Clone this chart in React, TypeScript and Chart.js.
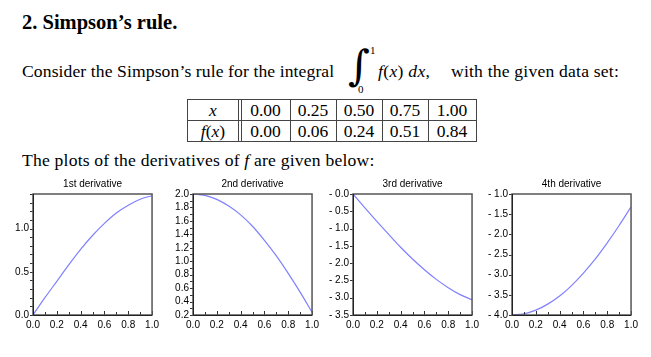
import React, { useEffect, useRef } from "react";
import { Chart, registerables } from "chart.js";

Chart.register(...registerables);

// ---- data ----
const TABLE_X = ["0.00", "0.25", "0.50", "0.75", "1.00"];
const TABLE_F = ["0.00", "0.06", "0.24", "0.51", "0.84"];

const X_VALUES = [0, 0.1, 0.2, 0.3, 0.4, 0.5, 0.6, 0.7, 0.8, 0.9, 1.0];
const D1 = [0, 0.2, 0.39, 0.58, 0.76, 0.92, 1.06, 1.18, 1.27, 1.34, 1.38];
const D2 = [2.0, 1.98, 1.92, 1.82, 1.69, 1.52, 1.31, 1.08, 0.82, 0.54, 0.24];
const D3 = [0.0, -0.4, -0.79, -1.17, -1.54, -1.88, -2.19, -2.47, -2.71, -2.91, -3.06];
const D4 = [-4.0, -3.97, -3.88, -3.73, -3.53, -3.27, -2.96, -2.61, -2.21, -1.78, -1.32];

const X_TICKS = [0, 0.2, 0.4, 0.6, 0.8, 1.0];
const Y1_TICKS = [0, 0.5, 1.0];
const Y2_TICKS = [0.2, 0.4, 0.6, 0.8, 1.0, 1.2, 1.4, 1.6, 1.8, 2.0];
const Y3_TICKS = [-3.5, -3.0, -2.5, -2.0, -1.5, -1.0, -0.5, 0.0];
const Y4_TICKS = [-4.0, -3.5, -3.0, -2.5, -2.0, -1.5, -1.0];

const TITLES = ["1st derivative", "2nd derivative", "3rd derivative", "4th derivative"];

const CHARTS = [
  { title: TITLES[0], data: D1, yTicks: Y1_TICKS, min: 0, max: 1.4, minor: 0.1, neg: false, left: 0 },
  { title: TITLES[1], data: D2, yTicks: Y2_TICKS, min: 0.2, max: 2.0, minor: 0.1, neg: false, left: 160 },
  { title: TITLES[2], data: D3, yTicks: Y3_TICKS, min: -3.5, max: 0, minor: 0.5, neg: true, left: 320 },
  { title: TITLES[3], data: D4, yTicks: Y4_TICKS, min: -4, max: -1, minor: 0.5, neg: true, left: 479 },
];

const SANS = "'Liberation Sans', Arial, sans-serif";
const SERIF = "'Liberation Serif', 'Times New Roman', serif";

const framePlugin = {
  id: "frame",
  afterDraw(chart: any, _args: any, opts: any) {
    const { ctx, chartArea, scales } = chart;
    const { left, top, right, bottom } = chartArea;
    const xs = scales.x;
    const ys = scales.y;
    ctx.save();
    ctx.strokeStyle = "#333";
    ctx.lineWidth = 1;
    for (let i = 0; i <= 10; i++) {
      const v = i / 10;
      const px = Math.round(xs.getPixelForValue(v)) + 0.5;
      const len = i % 2 === 0 ? 4 : 3;
      ctx.beginPath();
      ctx.moveTo(px, bottom);
      ctx.lineTo(px, bottom - len);
      ctx.stroke();
    }
    const step = opts.minor;
    const n = Math.round((ys.max - ys.min) / step);
    for (let i = 0; i <= n; i++) {
      const v = ys.min + i * step;
      const py = Math.round(ys.getPixelForValue(v)) + 0.5;
      ctx.beginPath();
      ctx.moveTo(left - 3, py);
      ctx.lineTo(left, py);
      ctx.stroke();
    }
    ctx.strokeStyle = "#555";
    ctx.lineWidth = 1.5;
    ctx.strokeRect(left, top, right - left, bottom - top);
    ctx.strokeStyle = "#222";
    ctx.lineWidth = 1;
    ctx.beginPath();
    ctx.moveTo(left + 0.5, top);
    ctx.lineTo(left + 0.5, bottom + 0.5);
    ctx.lineTo(right, bottom + 0.5);
    ctx.stroke();
    ctx.restore();
  },
};

function DerivChart({ cfg }: { cfg: any }) {
  const ref = useRef<HTMLCanvasElement>(null);
  useEffect(() => {
    if (!ref.current) return;
    const fmtY = (v: number) => {
      if (v < 0 || (cfg.neg && v === 0)) return "- " + Math.abs(v).toFixed(1);
      return v.toFixed(1);
    };
    const chart = new Chart(ref.current, {
      type: "line",
      data: {
        datasets: [
          {
            data: X_VALUES.map((x, i) => ({ x, y: cfg.data[i] })),
            borderColor: "#8080ff",
            borderWidth: 1.2,
            pointRadius: 0,
            cubicInterpolationMode: "monotone",
            fill: false,
          },
        ],
      },
      options: {
        animation: false,
        responsive: false,
        devicePixelRatio: 1,
        layout: { padding: { top: 0, right: 10, bottom: 0, left: 0 } },
        plugins: {
          legend: { display: false },
          tooltip: { enabled: false },
          title: {
            display: true,
            fullSize: false,
            text: cfg.title,
            color: "#000",
            font: { size: 10, family: SANS, weight: "normal" },
            padding: { top: 2, bottom: 4 },
          },
          frame: { minor: cfg.minor },
        } as any,
        scales: {
          x: {
            type: "linear",
            min: 0,
            max: 1,
            grid: { display: false, drawTicks: false },
            border: { display: false },
            ticks: {
              color: "#000",
              font: { size: 10, family: SANS },
              padding: 4,
              maxRotation: 0,
              autoSkip: false,
              callback: (v: any) => Number(v).toFixed(1),
            },
            afterBuildTicks: (s: any) => {
              s.ticks = X_TICKS.map((v) => ({ value: v }));
            },
            afterFit: (s: any) => {
              s.height = 20;
            },
          },
          y: {
            type: "linear",
            min: cfg.min,
            max: cfg.max,
            grid: { display: false, drawTicks: false },
            border: { display: false },
            ticks: {
              color: "#000",
              font: { size: 10, family: SANS },
              padding: 4,
              autoSkip: false,
              callback: (v: any) => fmtY(Number(v)),
            },
            afterBuildTicks: (s: any) => {
              s.ticks = cfg.yTicks.map((v: number) => ({ value: v }));
            },
            afterFit: (s: any) => {
              s.width = 33;
            },
          },
        },
      } as any,
      plugins: [framePlugin],
    });
    return () => chart.destroy();
  }, [cfg]);
  return (
    <canvas
      ref={ref}
      width={163}
      height={159}
      style={{ position: "absolute", left: cfg.left, top: 176, width: 163, height: 159 }}
    />
  );
}

const txt = (extra: any) => ({
  position: "absolute" as const,
  fontFamily: SERIF,
  whiteSpace: "nowrap" as const,
  color: "#000",
  ...extra,
});

function DataTable() {
  const colLines = [187, 290, 336, 382, 428, 476];
  const rowLines = [99, 120, 141];
  const cells = [241, 290, 336, 382, 428, 476];
  const lineColor = "#444";
  const items: any[] = [];
  rowLines.forEach((y, i) =>
    items.push(
      <div key={"r" + i} style={{ position: "absolute", left: 187, top: y, width: 289, height: 1, background: lineColor }} />
    )
  );
  colLines.forEach((x, i) =>
    items.push(
      <div key={"c" + i} style={{ position: "absolute", left: x, top: 99, width: 1, height: 43, background: lineColor }} />
    )
  );
  items.push(<div key="d1" style={{ position: "absolute", left: 238, top: 99, width: 1, height: 43, background: lineColor }} />);
  items.push(<div key="d2" style={{ position: "absolute", left: 241, top: 99, width: 1, height: 43, background: lineColor }} />);
  const fs = 17.5;
  items.push(
    <div key="hx" style={txt({ left: 187, width: 52, top: 101.5, fontSize: fs, lineHeight: fs + "px", textAlign: "center", fontStyle: "italic" })}>
      x
    </div>
  );
  items.push(
    <div key="hf" style={txt({ left: 187, width: 52, top: 122.5, fontSize: fs, lineHeight: fs + "px", textAlign: "center" })}>
      <i>f</i>(<i>x</i>)
    </div>
  );
  for (let i = 0; i < 5; i++) {
    const l = cells[i];
    const w = cells[i + 1] - cells[i];
    items.push(
      <div key={"x" + i} style={txt({ left: l, width: w, top: 101.5, fontSize: fs, lineHeight: fs + "px", textAlign: "center" })}>
        {TABLE_X[i]}
      </div>
    );
    items.push(
      <div key={"f" + i} style={txt({ left: l, width: w, top: 122.5, fontSize: fs, lineHeight: fs + "px", textAlign: "center" })}>
        {TABLE_F[i]}
      </div>
    );
  }
  return <>{items}</>;
}

export default function App() {
  const fs = 17.6;
  return (
    <div style={{ position: "absolute", left: 0, top: 0, width: 651, height: 357, background: "#fff", overflow: "hidden" }}>
      <div style={txt({ left: 22, top: 11.8, fontSize: 20.5, lineHeight: "20.5px", fontWeight: "bold" })}>
        2. Simpson’s rule.
      </div>
      <div style={txt({ left: 22, top: 63.3, fontSize: fs, lineHeight: fs + "px", letterSpacing: "0.1px" })}>
        Consider the Simpson’s rule for the integral
      </div>
      <div style={txt({ left: 348, top: 45, fontSize: 42, lineHeight: "42px", fontFamily: "'DejaVu Serif', serif" })}>
        ∫
      </div>
      <div style={txt({ left: 370, top: 45, fontSize: 11, lineHeight: "11px" })}>1</div>
      <div style={txt({ left: 358, top: 84, fontSize: 11, lineHeight: "11px" })}>0</div>
      <div style={txt({ left: 378, top: 63.3, fontSize: fs, lineHeight: fs + "px", letterSpacing: "0.3px" })}>
        <i>f</i>(<i>x</i>) <i>dx</i>,
      </div>
      <div style={txt({ left: 451, top: 63.3, fontSize: fs, lineHeight: fs + "px", letterSpacing: "0.2px" })}>
        with the given data set:
      </div>
      <DataTable />
      <div style={txt({ left: 22, top: 152.3, fontSize: fs, lineHeight: fs + "px", letterSpacing: "0.2px" })}>
        The plots of the derivatives of <i>f</i> are given below:
      </div>
      {CHARTS.map((c, i) => (
        <DerivChart key={i} cfg={c} />
      ))}
    </div>
  );
}
